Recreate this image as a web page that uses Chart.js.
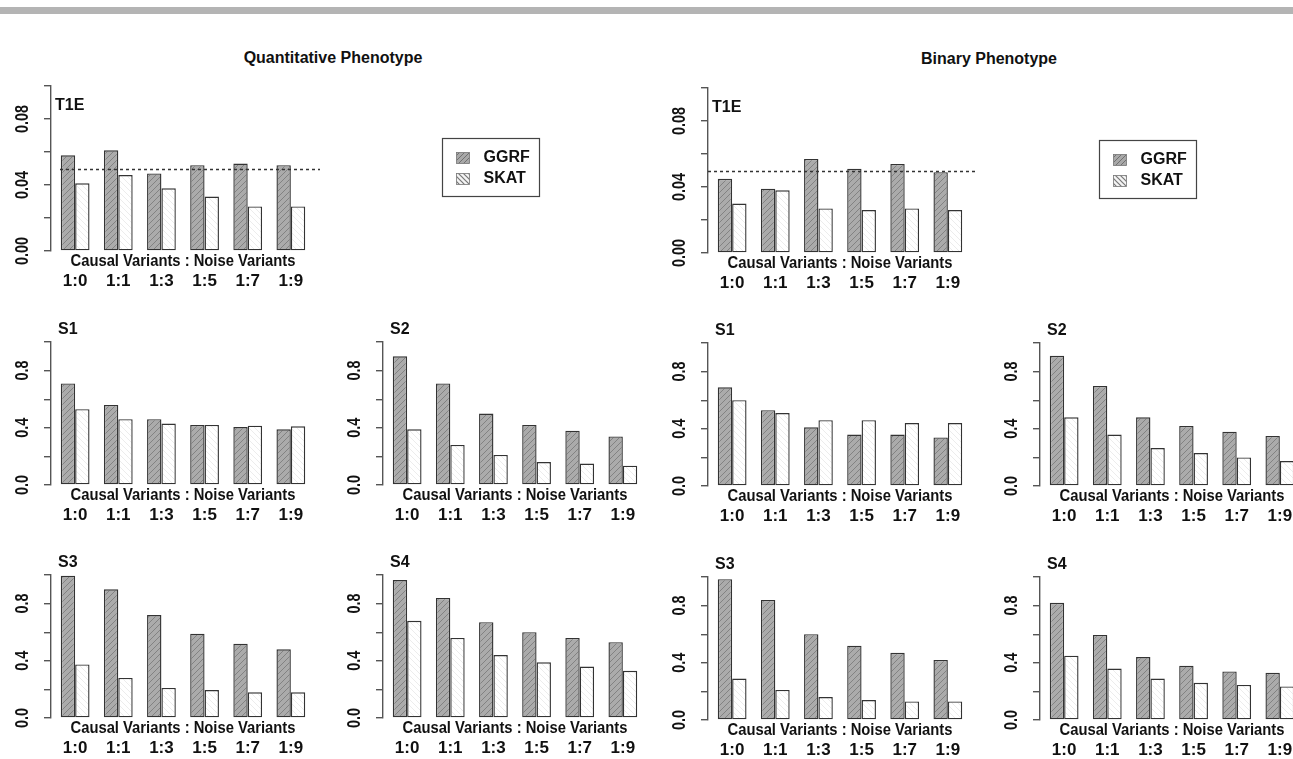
<!DOCTYPE html>
<html><head><meta charset="utf-8">
<script src="https://cdn.jsdelivr.net/npm/chart.js@4.4.1/dist/chart.umd.min.js"></script>
<style>
html,body{margin:0;padding:0;background:#fff;width:1293px;height:759px;overflow:hidden;position:relative;font-family:"Liberation Sans",Arial,Helvetica,sans-serif;}
#topbar{position:absolute;left:0;top:7px;width:1293px;height:7px;background:#b4b4b4;}
.title{position:absolute;font-weight:bold;font-size:16px;color:#111;white-space:nowrap;transform:translate(-50%,-50%);}
canvas{position:absolute;}
</style></head><body>
<div id="topbar"></div>
<div class="title" style="left:333px;top:58px">Quantitative Phenotype</div>
<div class="title" style="left:989px;top:59px">Binary Phenotype</div>
<script>
// ---------- data ----------
const categories = ['1:0','1:1','1:3','1:5','1:7','1:9'];
const seriesNames = ['GGRF','SKAT'];
const xAxisTitle = 'Causal Variants : Noise Variants';
const t1eTickValues = [0, 0.04, 0.08];
const t1eTickLabels = ['0.00','0.04','0.08'];
const powerTickValues = [0, 0.4, 0.8];
const powerTickLabels = ['0.0','0.4','0.8'];
const nominalLevel = 0.05;

const quantT1E_GGRF = [0.058,0.061,0.047,0.052,0.053,0.052];
const quantT1E_SKAT = [0.041,0.046,0.038,0.033,0.027,0.027];
const quantS1_GGRF  = [0.71,0.56,0.46,0.42,0.405,0.39];
const quantS1_SKAT  = [0.53,0.46,0.43,0.42,0.415,0.41];
const quantS2_GGRF  = [0.90,0.71,0.50,0.42,0.38,0.34];
const quantS2_SKAT  = [0.39,0.28,0.21,0.16,0.15,0.135];
const quantS3_GGRF  = [0.995,0.90,0.72,0.59,0.52,0.48];
const quantS3_SKAT  = [0.375,0.28,0.21,0.195,0.18,0.18];
const quantS4_GGRF  = [0.965,0.84,0.67,0.60,0.56,0.53];
const quantS4_SKAT  = [0.68,0.56,0.44,0.39,0.36,0.33];

const binT1E_GGRF = [0.045,0.039,0.057,0.051,0.054,0.049];
const binT1E_SKAT = [0.030,0.038,0.027,0.026,0.027,0.026];
const binS1_GGRF  = [0.69,0.53,0.41,0.36,0.36,0.34];
const binS1_SKAT  = [0.60,0.51,0.46,0.46,0.44,0.44];
const binS2_GGRF  = [0.91,0.70,0.48,0.42,0.38,0.35];
const binS2_SKAT  = [0.48,0.36,0.265,0.23,0.20,0.175];
const binS3_GGRF  = [0.985,0.84,0.60,0.52,0.47,0.42];
const binS3_SKAT  = [0.29,0.21,0.16,0.14,0.13,0.13];
const binS4_GGRF  = [0.82,0.595,0.44,0.38,0.34,0.33];
const binS4_SKAT  = [0.45,0.36,0.29,0.26,0.245,0.235];

// ---------- styling ----------
const FONT = '"Liberation Sans", Arial, Helvetica, sans-serif';
Chart.defaults.font.family = FONT;

function hatch(bg, fg, dir, size, lw) {
  const c = document.createElement('canvas'); c.width = size; c.height = size;
  const g = c.getContext('2d');
  g.fillStyle = bg; g.fillRect(0, 0, size, size);
  g.strokeStyle = fg; g.lineWidth = lw;
  g.beginPath();
  if (dir > 0) {
    g.moveTo(-1, size + 1); g.lineTo(size + 1, -1);
    g.moveTo(-1, 1); g.lineTo(1, -1);
    g.moveTo(size - 1, size + 1); g.lineTo(size + 1, size - 1);
  } else {
    g.moveTo(-1, -1); g.lineTo(size + 1, size + 1);
    g.moveTo(size - 1, -1); g.lineTo(size + 1, 1);
    g.moveTo(-1, size - 1); g.lineTo(1, size + 1);
  }
  g.stroke();
  return g.createPattern(c, 'repeat');
}
const ggrfFill = hatch('#ababab', '#828282', 1, 6, 1);
const skatFill = hatch('#ffffff', '#ececec', -1, 6, 1);
const ggrfSwatch = hatch('#a8a8a8', '#707070', 1, 5, 1);
const skatSwatch = hatch('#f4f4f4', '#777777', -1, 5, 1.2);

const decor = {
  id: 'panelDecor',
  afterDraw(chart, args, o) {
    const ctx = chart.ctx, a = chart.chartArea, ys = chart.scales.y, xs = chart.scales.x;
    ctx.save();
    ctx.fillStyle = '#111';
    // rotated y tick labels
    ctx.font = 'bold 18px ' + FONT;
    ctx.textAlign = 'center'; ctx.textBaseline = 'middle';
    o.tickValues.forEach((v, i) => {
      const t = o.tickLabels[i];
      ctx.save();
      ctx.translate(a.left - 28, ys.getPixelForValue(v));
      ctx.rotate(-Math.PI / 2);
      ctx.fillText(t, 0, 0, ctx.measureText(t).width * 0.8);
      ctx.restore();
    });
    // panel label
    ctx.font = 'bold 16px ' + FONT;
    ctx.textAlign = 'left';
    ctx.fillText(o.label, a.left + o.labelDx, a.top + o.labelDy);
    // x axis title
    ctx.textAlign = 'center';
    ctx.fillText(xAxisTitle, xs.getPixelForValue(2.5), a.bottom + 11, 225);
    // reference line
    if (o.refLine) {
      const yy = Math.round(ys.getPixelForValue(nominalLevel)) + 0.5;
      ctx.strokeStyle = '#333'; ctx.lineWidth = 1.5; ctx.setLineDash([3, 3]);
      ctx.beginPath(); ctx.moveTo(a.left + o.dotStart, yy); ctx.lineTo(a.right + 5, yy); ctx.stroke();
      ctx.setLineDash([]);
    }
    // legend
    if (o.legend) {
      const lx = Math.round(a.left + 391) + 0.5, ly = Math.round(a.top + 52) + 0.5;
      ctx.strokeStyle = '#444'; ctx.lineWidth = 1.2;
      ctx.strokeRect(lx, ly, 97, 58);
      const sw = [ggrfSwatch, skatSwatch];
      chart.data.datasets.forEach((ds, i) => {
        const sy = ly + 14 + i * 21;
        ctx.fillStyle = sw[i]; ctx.fillRect(lx + 14, sy, 13, 11);
        ctx.strokeStyle = '#777'; ctx.lineWidth = 0.8; ctx.strokeRect(lx + 14, sy, 13, 11);
        ctx.fillStyle = '#111'; ctx.font = 'bold 16px ' + FONT;
        ctx.textAlign = 'left'; ctx.textBaseline = 'middle';
        ctx.fillText(ds.label, lx + 41, sy + 5.5);
      });
    }
    ctx.restore();
  }
};

const panels = [
  {g: quantT1E_GGRF, s: quantT1E_SKAT, label: 'T1E', t1e: true, ax: 51,  top: 86,  zero: 251, legend: true, dotStart: 9},
  {g: quantS1_GGRF,  s: quantS1_SKAT,  label: 'S1',  ax: 51,  top: 342, zero: 485},
  {g: quantS2_GGRF,  s: quantS2_SKAT,  label: 'S2',  ax: 383, top: 342, zero: 485},
  {g: quantS3_GGRF,  s: quantS3_SKAT,  label: 'S3',  ax: 51,  top: 575, zero: 718},
  {g: quantS4_GGRF,  s: quantS4_SKAT,  label: 'S4',  ax: 383, top: 575, zero: 718},
  {g: binT1E_GGRF,   s: binT1E_SKAT,   label: 'T1E', t1e: true, ax: 708, top: 88,  zero: 253, legend: true, dotStart: 0},
  {g: binS1_GGRF,    s: binS1_SKAT,    label: 'S1',  ax: 708, top: 343, zero: 486},
  {g: binS2_GGRF,    s: binS2_SKAT,    label: 'S2',  ax: 1040, top: 343, zero: 486},
  {g: binS3_GGRF,    s: binS3_SKAT,    label: 'S3',  ax: 708, top: 577, zero: 720},
  {g: binS4_GGRF,    s: binS4_SKAT,    label: 'S4',  ax: 1040, top: 577, zero: 720}
];

function makePanel(p) {
  const padTop = 25, yW = 45, xH = 45, plotW = 264;
  const padR = p.legend ? 232 : 20;
  const plotH = p.zero - p.top;
  const cv = document.createElement('canvas');
  cv.width = yW + plotW + padR; cv.height = padTop + plotH + xH;
  cv.style.left = (p.ax - yW) + 'px'; cv.style.top = (p.top - padTop) + 'px';
  document.body.appendChild(cv);
  const bar = {borderColor: '#333', borderWidth: 1.4, borderSkipped: false, categoryPercentage: 2 / 3, barPercentage: 1};
  new Chart(cv.getContext('2d'), {
    type: 'bar',
    data: {datasets: [
      Object.assign({label: seriesNames[0], data: p.g.map((v, i) => ({x: i, y: v})), backgroundColor: ggrfFill}, bar),
      Object.assign({label: seriesNames[1], data: p.s.map((v, i) => ({x: i, y: v})), backgroundColor: skatFill}, bar)
    ]},
    options: {
      responsive: false, animation: false, events: [],
      layout: {padding: {top: padTop, right: padR, bottom: 0, left: 0}},
      plugins: {
        legend: {display: false}, tooltip: {enabled: false},
        panelDecor: {
          label: p.label,
          labelDx: p.t1e ? 4 : 7, labelDy: p.t1e ? 20 : -12,
          tickValues: p.t1e ? t1eTickValues : powerTickValues,
          tickLabels: p.t1e ? t1eTickLabels : powerTickLabels,
          refLine: !!p.t1e, dotStart: p.dotStart || 0, legend: !!p.legend
        }
      },
      scales: {
        x: {
          type: 'linear', min: -0.56, max: 5.56, offset: false,
          grid: {display: false, drawTicks: false}, border: {display: false},
          ticks: {font: {size: 17, weight: 'bold'}, color: '#111', padding: 20, autoSkip: false, maxRotation: 0,
                  callback: (v) => categories[v] !== undefined ? categories[v] : ''},
          afterBuildTicks: (s) => { s.ticks = categories.map((_, i) => ({value: i})); },
          afterFit: (s) => { s.height = xH; }
        },
        y: {
          min: 0, max: p.t1e ? 0.1 : 1.0,
          grid: {drawOnChartArea: false, drawTicks: true, tickLength: 7, color: '#555', lineWidth: 1.4},
          border: {display: true, color: '#555', width: 1.4},
          ticks: {display: false, stepSize: p.t1e ? 0.02 : 0.2},
          afterFit: (s) => { s.width = yW; }
        }
      }
    },
    plugins: [decor]
  });
}
panels.forEach(makePanel);
</script>
</body></html>
